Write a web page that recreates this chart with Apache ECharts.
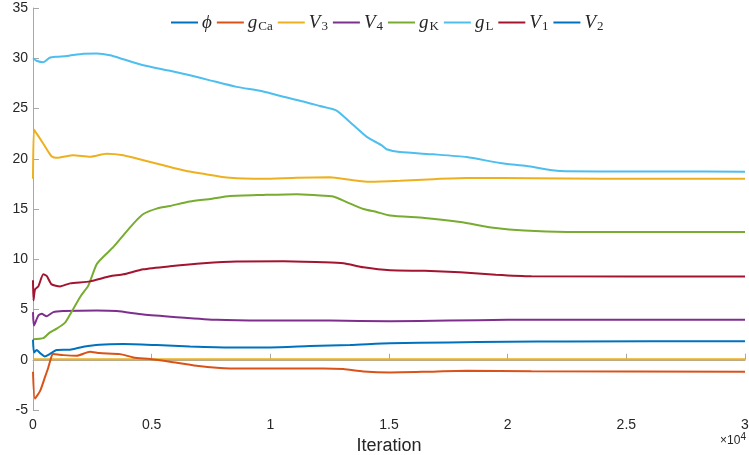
<!DOCTYPE html>
<html>
<head>
<meta charset="utf-8">
<script src="https://cdn.jsdelivr.net/npm/echarts@6/dist/echarts.min.js"></script>
<style>
  html, body { margin: 0; padding: 0; background: #fff; }
  #chart { width: 749px; height: 455px; }
</style>
</head>
<body>
<div id="chart"></div>
<script>
// Parameter traces over the optimisation iterations: [iteration, value]
const gL = [[0,30.0],[150,29.75],[430,29.6],[700,30.05],[1000,30.15],[1420,30.22],[2120,30.45],[2683,30.47],[3245,30.3],[3807,29.9],[4650,29.3],[5770,28.75],[6610,28.3],[7460,27.8],[8580,27.15],[9700,26.7],[10550,26.16],[11390,25.7],[12090,25.25],[12790,24.8],[13350,23.66],[14050,22.2],[14680,21.35],[14900,20.95],[15460,20.66],[16870,20.44],[18270,20.17],[19680,19.57],[20800,19.27],[22210,18.77],[23900,18.74],[26700,18.74],[30000,18.7]];
const V3 = [[0,18.0],[40,22.9],[155,22.5],[435,21.5],[645,20.7],[786,20.24],[1000,20.1],[1700,20.35],[2400,20.2],[3100,20.5],[3800,20.35],[4650,19.85],[5490,19.35],[6330,18.85],[7180,18.5],[8300,18.1],[9700,18.0],[11110,18.12],[12515,18.15],[13360,17.9],[14200,17.7],[15460,17.8],[16870,17.97],[18270,18.08],[21080,18.07],[24000,18.0],[30000,18.0]];
const gK = [[0,2.05],[435,2.15],[700,2.7],[1000,3.1],[1350,3.7],[1560,4.5],[2000,6.3],[2330,7.38],[2683,9.5],[3030,10.4],[3380,11.2],[3740,12.2],[4230,13.55],[4650,14.5],[5210,15.04],[5770,15.3],[6610,15.75],[7460,16.0],[8300,16.29],[9700,16.4],[11110,16.48],[11950,16.37],[12650,16.25],[13220,15.69],[13920,15.0],[14480,14.7],[15045,14.35],[16500,14.1],[18000,13.7],[19500,13.1],[20700,12.85],[22500,12.72],[30000,12.7]];
const V1 = [[0,7.9],[20,5.9],[85,7.0],[225,7.3],[435,8.5],[575,8.35],[786,7.5],[1140,7.3],[1560,7.6],[2400,7.8],[3245,8.3],[3807,8.5],[4650,9.0],[5770,9.3],[7180,9.6],[8580,9.78],[10550,9.8],[12230,9.7],[13080,9.6],[13920,9.2],[15045,8.9],[16500,8.85],[18000,8.7],[19500,8.45],[21000,8.3],[30000,8.28]];
const V4 = [[0,4.74],[40,3.4],[225,4.4],[365,4.57],[575,4.33],[855,4.74],[1277,4.84],[2683,4.9],[3527,4.84],[4650,4.5],[6050,4.24],[7740,3.97],[9700,3.9],[12515,3.9],[15045,3.83],[17500,3.9],[20000,3.97],[30000,3.97]];
const V2 = [[0,2.0],[42,0.73],[155,0.96],[300,0.66],[500,0.33],[700,0.56],[1000,0.96],[1560,1.0],[2120,1.29],[2800,1.5],[3807,1.56],[5210,1.46],[6610,1.33],[8300,1.23],[9980,1.23],[11670,1.36],[13360,1.46],[15045,1.63],[17500,1.72],[20000,1.8],[22500,1.82],[30000,1.85]];
const gCa = [[0,-1.2],[80,-3.86],[300,-3.1],[500,-1.76],[645,-0.77],[790,0.4],[855,0.56],[1277,0.46],[1840,0.4],[2400,0.8],[2800,0.66],[3670,0.56],[4230,0.23],[4930,0.07],[5770,-0.2],[6890,-0.6],[8300,-0.86],[9980,-0.86],[12230,-0.86],[13080,-0.93],[13920,-1.16],[15045,-1.26],[16500,-1.2],[18270,-1.1],[21000,-1.15],[30000,-1.2]];
const offsetLine = [[0,0.05],[30000,0.05]];
const phi = [];

const seriesNames = ['phi','gCa','V3','V4','gK','gL','V1','V2'];
const xTicks = [0, 5000, 10000, 15000, 20000, 25000, 30000];

const colors = {
  phi: '#0072BD', gCa: '#D95319', V3: '#EDB120', V4: '#7E2F8E',
  gK: '#77AC30', gL: '#4DBEEE', V1: '#A2142F', V2: '#0072BD'
};
const dataByName = { phi, gCa, V3, V4, gK, gL, V1, V2 };

// Math-style legend labels: italic symbol with upright subscript
const legendText = {
  phi: '{m|ϕ}',
  gCa: '{m|g}{s|Ca}',
  V3: '{m|V}{s|3}',
  V4: '{m|V}{s|4}',
  gK: '{m|g}{s|K}',
  gL: '{m|g}{s|L}',
  V1: '{m|V}{s|1}',
  V2: '{m|V}{s|2}'
};

const serifFont = '"Liberation Serif", "DejaVu Serif", serif';
const sansFont = '"Liberation Sans", Arial, sans-serif';
const axisGray = '#a8a8a8';
const textGray = '#262626';

const chart = echarts.init(document.getElementById('chart'), null, { renderer: 'canvas' });

const series = [{
  name: 'offset', type: 'line', data: offsetLine, symbol: 'none',
  lineStyle: { color: '#EDB120', width: 2 }, itemStyle: { color: '#EDB120' },
  silent: true, z: 2
}].concat(seriesNames.map((n, i) => ({
  name: n, type: 'line', data: dataByName[n], symbol: 'none', smooth: 0.2,
  lineStyle: { color: colors[n], width: 2 }, itemStyle: { color: colors[n] },
  z: 3 + i
})));

chart.setOption({
  animation: false,
  grid: { left: 33, right: 4, top: 8, bottom: 45, containLabel: false, outerBoundsMode: 'none' },
  legend: {
    data: seriesNames,
    top: 8, left: 166,
    icon: 'rect',
    itemWidth: 27, itemHeight: 2, itemGap: 5,
    formatter: n => legendText[n],
    textStyle: {
      color: textGray,
      padding: [0, 0, 0, -1],
      rich: {
        m: { fontFamily: serifFont, fontStyle: 'italic', fontSize: 19, color: textGray },
        s: { fontFamily: serifFont, fontSize: 13, color: textGray, padding: [9, 0, 0, 1] }
      }
    }
  },
  xAxis: {
    type: 'value', min: 0, max: 30000, interval: 5000,
    axisLine: { show: true, lineStyle: { color: axisGray, width: 1 } },
    axisTick: { show: true, inside: true, length: 6, lineStyle: { color: axisGray } },
    splitLine: { show: false },
    axisLabel: {
      color: textGray, fontFamily: sansFont, fontSize: 14, margin: 8,
      formatter: v => xTicks.includes(v) ? String(v / 10000) : ''
    },
    name: 'Iteration', nameLocation: 'middle', nameGap: 21,
    nameTextStyle: { color: textGray, fontFamily: sansFont, fontSize: 18 }
  },
  yAxis: {
    type: 'value', min: -5, max: 35, interval: 5,
    axisLine: { show: true, lineStyle: { color: axisGray, width: 1 } },
    axisTick: { show: true, inside: true, length: 6, lineStyle: { color: axisGray } },
    splitLine: { show: false },
    axisLabel: { color: textGray, fontFamily: sansFont, fontSize: 14, margin: 5 }
  },
  graphic: [{
    type: 'text', right: 3, top: 432,
    style: {
      text: '×10{p|4}', fill: textGray,
      font: '12px ' + sansFont,
      rich: { p: { fontSize: 10, fontFamily: sansFont, fill: textGray, padding: [0, 0, 8, 0] } }
    }
  }],
  series: series
});
</script>
</body>
</html>
